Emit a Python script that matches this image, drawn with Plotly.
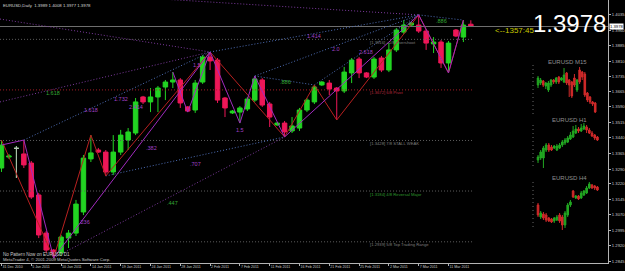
import plotly.graph_objects as go

# ---------------- data ----------------
date_labels = ["31 Dec 2010", "5 Jan 2011", "10 Jan 2011", "14 Jan 2011", "19 Jan 2011",
               "24 Jan 2011", "28 Jan 2011", "2 Feb 2011", "7 Feb 2011", "11 Feb 2011",
               "16 Feb 2011", "21 Feb 2011", "25 Feb 2011", "2 Mar 2011", "7 Mar 2011",
               "11 Mar 2011"]
date_bar = [0, 4, 8, 12, 16, 20, 24, 28, 32, 36, 40, 44, 48, 52, 56, 60]

price_ticks = [1.4035, 1.3960, 1.3885, 1.3810, 1.3735, 1.3665, 1.3590, 1.3515, 1.3440,
               1.3365, 1.3290, 1.3220, 1.3145, 1.3070, 1.2995, 1.2920, 1.2845]

opens = [1.3295, 1.3348, 1.3390, 1.3363, 1.3319, 1.3165, 1.2981, 1.2899, 1.2885, 1.2957,
         1.2981, 1.3083, 1.3339, 1.3382, 1.3372, 1.3276, 1.3372, 1.3430, 1.3464, 1.3638,
         1.3614, 1.3638, 1.3686, 1.3710, 1.3720, 1.3590, 1.3575, 1.3710, 1.3831, 1.3816,
         1.3633, 1.3561, 1.3565, 1.3580, 1.3623, 1.3720, 1.3604, 1.3503, 1.3512, 1.3474,
         1.3488, 1.3575, 1.3614, 1.3696, 1.3705, 1.3681, 1.3667, 1.3754, 1.3821, 1.3754,
         1.3734, 1.3826, 1.3768, 1.3865, 1.3951, 1.3985, 1.3985, 1.3956, 1.3894, 1.3903,
         1.3802, 1.3961, 1.3927, 1.3989]
highs = [1.3430, 1.3363, 1.3401, 1.3430, 1.3329, 1.3175, 1.2991, 1.2904, 1.2972, 1.2996,
         1.3141, 1.3358, 1.3454, 1.3392, 1.3382, 1.3454, 1.3479, 1.3488, 1.3633, 1.3643,
         1.3681, 1.3691, 1.3720, 1.3758, 1.3729, 1.3594, 1.3720, 1.3840, 1.3855, 1.3826,
         1.3638, 1.3575, 1.3594, 1.3638, 1.3739, 1.3729, 1.3614, 1.3517, 1.3522, 1.3541,
         1.3585, 1.3633, 1.3696, 1.3715, 1.3720, 1.3686, 1.3783, 1.3826, 1.3831, 1.3758,
         1.3831, 1.3836, 1.3898, 1.3971, 1.4009, 1.4000, 1.4034, 1.3966, 1.3927, 1.3913,
         1.3908, 1.3966, 1.4009, 1.4008]
lows = [1.3276, 1.3339, 1.3247, 1.3295, 1.3146, 1.2957, 1.2885, 1.2861, 1.2870, 1.2909,
        1.2967, 1.3068, 1.3324, 1.3368, 1.3257, 1.3261, 1.3358, 1.3382, 1.3454, 1.3604,
        1.3565, 1.3565, 1.3623, 1.3681, 1.3585, 1.3565, 1.3561, 1.3701, 1.3768, 1.3609,
        1.3541, 1.3556, 1.3512, 1.3570, 1.3614, 1.3590, 1.3493, 1.3498, 1.3445, 1.3464,
        1.3474, 1.3565, 1.3604, 1.3691, 1.3647, 1.3527, 1.3657, 1.3705, 1.3729, 1.3729,
        1.3725, 1.3758, 1.3758, 1.3855, 1.3942, 1.3980, 1.3947, 1.3865, 1.3850, 1.3778,
        1.3754, 1.3927, 1.3903, 1.3977]
closes = [1.3406, 1.3353, 1.3390, 1.3310, 1.3155, 1.2972, 1.2899, 1.2890, 1.2962, 1.2981,
          1.3121, 1.3343, 1.3368, 1.3372, 1.3276, 1.3372, 1.3454, 1.3469, 1.3614, 1.3614,
          1.3638, 1.3681, 1.3710, 1.3720, 1.3609, 1.3570, 1.3705, 1.3831, 1.3812, 1.3623,
          1.3585, 1.3570, 1.3585, 1.3628, 1.3725, 1.3599, 1.3541, 1.3512, 1.3469, 1.3498,
          1.3575, 1.3623, 1.3686, 1.3710, 1.3676, 1.3667, 1.3758, 1.3816, 1.3754, 1.3734,
          1.3821, 1.3768, 1.3865, 1.3961, 1.3985, 1.3995, 1.3956, 1.3898, 1.3903, 1.3802,
          1.3898, 1.3932, 1.3985, 1.3978]
doji_bars = [2]

# zigzag / pattern vertices: (bar, 'H' high or 'L' low or 'C' close)
red_zigzag = [(0, 'H'), (7, 'L'), (12, 'H'), (14, 'L'), (28, 'H'), (38, 'L'), (42, 'H'),
              (45, 'L'), (56, 'H'), (60, 'L'), (62, 'H')]
pattern_main = [(0, 'C'), (3, 'H'), (7, 'L'), (28, 'H'), (32, 'L'), (34, 'H'), (38, 'L'),
                (56, 'H'), (60, 'L'), (62, 'H')]
pattern_small = [(23, 'H'), (25, 'L'), (28, 'H')]

# dotted ratio lines: start (bar, price or vertex), end (bar, vertex), colour key
ratio_lines = [
    ((-0.2, 1.4014), (28, 'H'), 'p'),
    ((20.0, 1.4114), (56, 'H'), 'p'),
    ((-0.2, 1.3614), (28, 'H'), 'p'),
    ((3, 'H'), (28, 'H'), 'b'),
    ((7, 'L'), (38, 'L'), 'p'),
    ((14, 'L'), (38, 'L'), 'b'),
    ((28, 'H'), (56, 'H'), 'b'),
    ((34, 'H'), (56, 'H'), 'b'),
    ((42, 'H'), (56, 'H'), 'b'),
    ((34, 'H'), (42, 'H'), 'b'),
    ((56, 'H'), (62, 'H'), 'b'),
]

ratio_text = ["1.618", "1.618", "1.732", "2.414", "1.5", ".382", ".707", ".447", ".236",
              "1.414", "2.0", "2.618", ".886", "1.5", ".886"]
ratio_bar = [6.9, 12.0, 16.0, 18.0, 26.2, 20.1, 26.0, 23.0, 11.2, 42.0, 44.9, 48.9, 38.1,
             32.0, 59.0]
ratio_price = [1.3657, 1.3575, 1.3628, 1.3590, 1.3792, 1.3392, 1.3315, 1.3126, 1.3035,
               1.3932, 1.3870, 1.3855, 1.3710, 1.3479, 1.4005]
ratio_green = [1, 0, 0, 0, 0, 0, 0, 1, 0, 0, 0, 0, 1, 0, 1]

mm_price = [1.3916, 1.3672, 1.3428, 1.3184, 1.2939]
mm_label = ["[1.3916] +1/8 Overshoot", "[1.3672] 6/8 Pivot", "[1.3428] 7/8 STALL WEAK",
            "[1.3184] 4/8 Reversal Major", "[1.2939] 5/8 Top Trading Range"]
mm_line_col = ["#5E5E5E", "#A81E28", "#5E5E5E", "#5E5E5E", "#5E5E5E"]
mm_text_col = ["#7E7E7E", "#B8283C", "#7E7E7E", "#2E9A2E", "#7E7E7E"]

# mini charts
m15_o = [1.4005, 1.4007, 1.4009, 1.4004, 1.4000, 1.4005, 1.4010, 1.4008, 1.4013, 1.4010, 1.4008, 1.4017,
         1.4010, 1.4008, 1.4012, 1.4000, 1.4020, 1.4018, 1.4016, 1.3997, 1.3993, 1.3988, 1.3987]
m15_h = [1.4014, 1.4012, 1.4010, 1.4008, 1.4009, 1.4011, 1.4011, 1.4013, 1.4014, 1.4013, 1.4022, 1.4018,
         1.4011, 1.4009, 1.4016, 1.4011, 1.4023, 1.4019, 1.4018, 1.3998, 1.3994, 1.3989, 1.3988]
m15_l = [1.4002, 1.4005, 1.4003, 1.4001, 1.3998, 1.4003, 1.4006, 1.4006, 1.4006, 1.4009, 1.4007, 1.4005,
         1.3993, 1.3992, 1.4003, 1.3998, 1.4006, 1.4010, 1.3993, 1.3988, 1.3986, 1.3984, 1.3977]
m15_c = [1.4012, 1.4010, 1.4005, 1.4007, 1.4007, 1.4010, 1.4008, 1.4012, 1.4008, 1.4012, 1.4015, 1.4007,
         1.4005, 1.3994, 1.4005, 1.4010, 1.4008, 1.4013, 1.3995, 1.3990, 1.3988, 1.3986, 1.3978]

h1_o = [1.3938, 1.3942, 1.3942, 1.3958, 1.3968, 1.3964, 1.3962, 1.3958, 1.3962, 1.3968, 1.3972, 1.3974,
        1.3980, 1.3984, 1.3992, 1.4000, 1.3996, 1.4000, 1.4004, 1.3998, 1.3992, 1.3988, 1.3984]
h1_h = [1.3948, 1.3958, 1.3966, 1.3972, 1.3972, 1.3968, 1.3968, 1.3970, 1.3972, 1.3978, 1.3982, 1.3986,
        1.3994, 1.4006, 1.4008, 1.4004, 1.4010, 1.4012, 1.4008, 1.4002, 1.3996, 1.3990, 1.3986]
h1_l = [1.3932, 1.3938, 1.3922, 1.3954, 1.3954, 1.3956, 1.3960, 1.3956, 1.3960, 1.3964, 1.3968, 1.3972,
        1.3978, 1.3982, 1.3990, 1.3992, 1.3994, 1.3998, 1.3992, 1.3990, 1.3984, 1.3978, 1.3976]
h1_c = [1.3944, 1.3954, 1.3962, 1.3968, 1.3958, 1.3958, 1.3966, 1.3966, 1.3968, 1.3974, 1.3978, 1.3982,
        1.3988, 1.3996, 1.4000, 1.3996, 1.4002, 1.4006, 1.3998, 1.3992, 1.3986, 1.3982, 1.3978]

h4_o = [1.3918, 1.3870, 1.3882, 1.3878, 1.3866, 1.3862, 1.3854, 1.3858, 1.3878, 1.3870, 1.3838, 1.3878,
        1.3918, 1.3974, 1.3946, 1.3954, 1.3946, 1.3958, 1.3966, 1.3986, 1.3998, 1.3994, 1.3990]
h4_h = [1.3926, 1.3894, 1.3890, 1.3886, 1.3870, 1.3866, 1.3870, 1.3878, 1.3886, 1.3878, 1.3894, 1.3926,
        1.3938, 1.3978, 1.3958, 1.3958, 1.3974, 1.3978, 1.3994, 1.4010, 1.4002, 1.3998, 1.3994]
h4_l = [1.3870, 1.3862, 1.3858, 1.3850, 1.3850, 1.3846, 1.3846, 1.3854, 1.3846, 1.3818, 1.3826, 1.3870,
        1.3910, 1.3946, 1.3942, 1.3938, 1.3942, 1.3954, 1.3962, 1.3982, 1.3982, 1.3978, 1.3974]
h4_c = [1.3878, 1.3886, 1.3866, 1.3858, 1.3854, 1.3850, 1.3866, 1.3870, 1.3854, 1.3838, 1.3886, 1.3918,
        1.3930, 1.3950, 1.3954, 1.3942, 1.3966, 1.3974, 1.3986, 1.4002, 1.3986, 1.3986, 1.3978]

countdown = "<--1357:45"
pattern_status = "No Pattern Now on EURUSD D1"
copyright_text = "MetaTrader 4, © 2001-2009 MetaQuotes Software Corp."

# ---------------- style ----------------
GREEN = "#22D422"
RED = "#EE1758"
MINI_GREEN = "#22A822"
MINI_RED = "#D02A2A"
PURPLE = "#A12BBE"
ZZ_RED = "#B82020"
DOT_BLUE = "#4F6FB8"
DOT_PURPLE = "#7D3A9E"
LBL_PURPLE = "#A040C8"
LBL_GREEN = "#34A834"
AXIS = "#B4B4B4"
DOTS = "1px,2px"

bars = list(range(len(opens)))


def vert(v):
    b, s = v
    if isinstance(s, str):
        return b, {'H': highs, 'L': lows, 'C': closes}[s][b]
    return b, s


fig = go.Figure()

fig.add_trace(go.Candlestick(
    x=bars, open=opens, high=highs, low=lows, close=closes,
    increasing=dict(line=dict(color=GREEN, width=1), fillcolor=GREEN),
    decreasing=dict(line=dict(color=RED, width=1), fillcolor=RED),
    whiskerwidth=0, hoverinfo="skip", showlegend=False))
fig.add_trace(go.Candlestick(
    x=doji_bars, open=[opens[i] for i in doji_bars], high=[highs[i] for i in doji_bars],
    low=[lows[i] for i in doji_bars], close=[closes[i] for i in doji_bars],
    increasing=dict(line=dict(color="#BEBEBE", width=1), fillcolor="#BEBEBE"),
    decreasing=dict(line=dict(color="#BEBEBE", width=1), fillcolor="#BEBEBE"),
    whiskerwidth=0, hoverinfo="skip", showlegend=False))

# horizontal levels
end_bar = 63.2
for p, c in zip(mm_price, mm_line_col):
    fig.add_trace(go.Scatter(x=[-1, end_bar], y=[p, p], mode="lines",
                             line=dict(color=c, width=1, dash=DOTS), hoverinfo="skip"))
fig.add_trace(go.Scatter(x=[-1, 90], y=[closes[-1], closes[-1]], mode="lines",
                         line=dict(color="#6E6E6E", width=1), hoverinfo="skip"))

# dotted ratio lines
for a, b, k in ratio_lines:
    x0, y0 = vert(a)
    x1, y1 = vert(b)
    fig.add_trace(go.Scatter(x=[x0, x1], y=[y0, y1], mode="lines",
                             line=dict(color=DOT_BLUE if k == 'b' else DOT_PURPLE, width=1, dash=DOTS),
                             hoverinfo="skip"))

# zigzags
for pts, col in ((red_zigzag, ZZ_RED), (pattern_main, PURPLE), (pattern_small, PURPLE)):
    xs, ys = zip(*[vert(v) for v in pts])
    fig.add_trace(go.Scatter(x=list(xs), y=list(ys), mode="lines",
                             line=dict(color=col, width=1), hoverinfo="skip"))

# mini charts
minis = [
    ("x2", "y2", m15_o, m15_h, m15_l, m15_c, (1.4025, 1.3975), -1.92),
    ("x3", "y3", h1_o, h1_h, h1_l, h1_c, (1.4008, 1.3922), -1.85),
    ("x4", "y4", h4_o, h4_h, h4_l, h4_c, (1.4010, 1.3826), -1.85),
]
for xa, ya, o, h, l, c, vr, vx in minis:
    fig.add_trace(go.Candlestick(
        x=list(range(len(o))), open=o, high=h, low=l, close=c, xaxis=xa, yaxis=ya,
        increasing=dict(line=dict(color=MINI_GREEN, width=1), fillcolor=MINI_GREEN),
        decreasing=dict(line=dict(color=MINI_RED, width=1), fillcolor=MINI_RED),
        whiskerwidth=0, hoverinfo="skip", showlegend=False))
    fig.add_trace(go.Scatter(x=[vx, vx], y=list(vr), xaxis=xa, yaxis=ya, mode="lines",
                             line=dict(color="#6A6A6A", width=1, dash="1px,3px"), hoverinfo="skip"))

# ---------------- annotations ----------------
ann = []
ann.append(dict(x=0, y=1, xref="paper", yref="paper", xanchor="left", yanchor="top", xshift=1, yshift=-1,
                text=f"EURUSD,Daily  {opens[-1]:.4f} {highs[-1]:.4f} {lows[-1]:.4f} {closes[-1]:.4f}",
                showarrow=False, font=dict(size=4.3, color="#D8D8D8")))
for t, b, p, g in zip(ratio_text, ratio_bar, ratio_price, ratio_green):
    ann.append(dict(x=b, y=p, xref="x", yref="y", text=t, showarrow=False,
                    font=dict(size=5.5, color=LBL_GREEN if g else LBL_PURPLE)))
for p, t, c in zip(mm_price, mm_label, mm_text_col):
    ann.append(dict(x=49.2, y=p, xref="x", yref="y", xanchor="left", yanchor="middle", yshift=-3,
                    text=t, showarrow=False, font=dict(size=4.2, color=c)))
ann.append(dict(x=0, y=0.034, xref="paper", yref="paper", xanchor="left", yanchor="middle", xshift=1,
                text=pattern_status, showarrow=False, font=dict(size=4.6, color="#C8C8C8")))
ann.append(dict(x=0, y=0.015, xref="paper", yref="paper", xanchor="left", yanchor="middle", xshift=1,
                text=copyright_text, showarrow=False, font=dict(size=4.3, color="#C8C8C8")))
for lab, yy in (("EURUSD M15", 0.7643), ("EURUSD H1", 0.5437), ("EURUSD H4", 0.3232)):
    ann.append(dict(x=0.9688, y=yy, xref="paper", yref="paper", xanchor="right", yanchor="middle",
                    text=lab, showarrow=False, font=dict(size=6, color="#8E8E8E")))
ann.append(dict(x=0.811, y=closes[-1], xref="paper", yref="y", xanchor="left", yanchor="middle", yshift=-4,
                text=countdown, showarrow=False, font=dict(size=8, color="#C8C800")))
ann.append(dict(x=0.873, y=closes[-1], xref="paper", yref="y", xanchor="left", yanchor="middle", yshift=3,
                text=f"{closes[-1]:.4f}", showarrow=False,
                font=dict(size=24, color="white", family="Liberation Sans, Arial")))
ann.append(dict(x=1, y=closes[-1], xref="paper", yref="y", xanchor="left", yanchor="middle", xshift=1,
                text=f"{closes[-1]:.4f}", showarrow=False, bgcolor="white", borderpad=0,
                font=dict(size=4.2, color="black")))

mini_x = [0.8734, 0.9885]
fig.update_layout(
    width=625, height=271, margin=dict(l=0, r=17, t=0, b=8),
    paper_bgcolor="black", plot_bgcolor="black", showlegend=False,
    boxgap=0.4, boxgroupgap=0,
    font=dict(family="Liberation Sans, Arial, sans-serif", color="#C8C8C8"),
    annotations=ann,
    xaxis=dict(range=[-0.2, 81.41], tickmode="array", tickvals=date_bar, ticktext=date_labels,
               ticklabelposition="outside right", ticks="outside", ticklen=2, tickcolor=AXIS,
               showgrid=False, zeroline=False, showline=True, linecolor=AXIS, linewidth=1,
               tickfont=dict(size=3.6, color="#C8C8C8"), rangeslider=dict(visible=False),
               fixedrange=True),
    yaxis=dict(side="right", range=[1.28367, 1.41059], tickmode="array", tickvals=price_ticks,
               ticktext=[f"{v:.4f}" for v in price_ticks], ticks="outside", ticklen=2,
               tickcolor=AXIS, showgrid=False, zeroline=False, showline=True, linecolor=AXIS,
               linewidth=1, tickfont=dict(size=4.2, color="#C8C8C8"), fixedrange=True),
    xaxis2=dict(domain=mini_x, anchor="y2", range=[-2.69, 24.23], visible=False,
                rangeslider=dict(visible=False)),
    yaxis2=dict(domain=[0.5513, 0.7719], anchor="x2", range=[1.3972, 1.4030], visible=False),
    xaxis3=dict(domain=mini_x, anchor="y3", range=[-2.59, 23.33], visible=False,
                rangeslider=dict(visible=False)),
    yaxis3=dict(domain=[0.3536, 0.5437], anchor="x3", range=[1.3918, 1.4018], visible=False),
    xaxis4=dict(domain=mini_x, anchor="y4", range=[-2.59, 23.33], visible=False,
                rangeslider=dict(visible=False)),
    yaxis4=dict(domain=[0.1103, 0.3232], anchor="x4", range=[1.3802, 1.4026], visible=False),
)

fig.write_html("out.html", config={"displayModeBar": False})
